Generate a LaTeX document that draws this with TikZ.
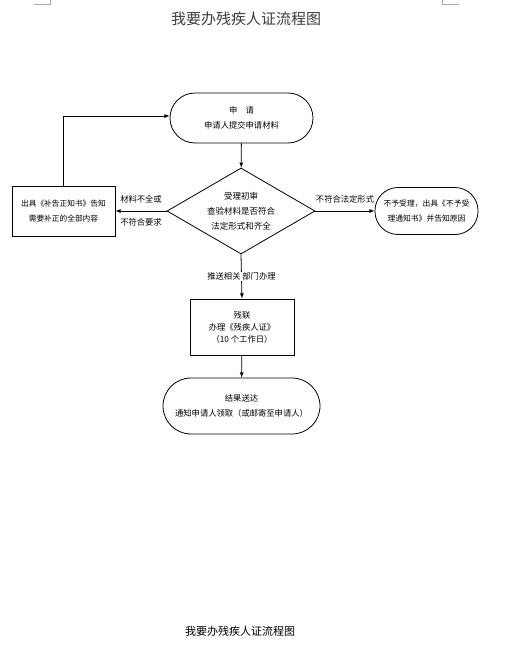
\documentclass[tikz,border=0pt]{standalone}
\usepackage{fontspec}
\setmainfont{Noto Sans CJK SC}
\usetikzlibrary{shapes.geometric}
\definecolor{titlegray}{RGB}{60,60,60}
\definecolor{markgray}{RGB}{170,170,170}

\begin{document}
\begin{tikzpicture}[x=1pt,y=-1pt,line width=0.8pt,
    every node/.style={font=\fontsize{8.3}{15}\selectfont,align=center,inner sep=0pt},
    stadium/.style={draw,rounded corners=#1},
    box/.style={draw,rectangle}]
    \useasboundingbox (0,0) rectangle (504,648);
    % page corner marks
    \draw [markgray,line width=0.6pt] (34,4)--(50,4)--(50,0);
    \draw [markgray,line width=0.6pt] (442,0)--(442,4)--(459,4);
    \node [font=\fontsize{15}{17}\selectfont,text=titlegray] (toptitle) at (246,19) {我要办残疾人证流程图};
    \node [font=\fontsize{11}{13}\selectfont] (bottomtitle) at (240,631) {我要办残疾人证流程图};
    % flow
    \node [stadium=25pt,minimum width=143pt,minimum height=50pt] (apply) at (241.5,118)
      {申\quad 请\\申请人提交申请材料};
    \node [draw,diamond,aspect=1.72,minimum width=148pt,minimum height=86pt,font=\fontsize{8.5}{15}\selectfont] (check) at (241,211)
      {受理初审\\查验材料是否符合\\法定形式和齐全};
    \node [box,minimum width=103pt,minimum height=50pt,font=\fontsize{7.7}{15}\selectfont] (amend) at (63.5,211)
      {出具《补告正知书》告知\\需要补正的全部内容};
    \node [stadium=23pt,minimum width=103pt,minimum height=47pt,font=\fontsize{7.8}{15}\selectfont] (reject) at (426.5,211)
      {不予受理，出具《不予受\\理通知书》并告知原因};
    \node [box,minimum width=104pt,minimum height=56pt,font=\fontsize{8.3}{12}\selectfont] (handle) at (242,327)
      {残联\\办理《残疾人证》\\（10 个工作日）};
    \node [stadium=28pt,minimum width=157pt,minimum height=56pt] (result) at (241.5,406)
      {结果送达\\通知申请人领取（或邮寄至申请人）};
    \draw [-latex] (apply) -- (check);
    \draw [-latex] (check.west) -- node [above=7pt] {材料不全或} node [below=7pt] {不符合要求} (amend.east);
    \draw [-latex] (check.east) -- node [above=7pt] {不符合法定形式} (reject.west);
    \draw [-latex] (amend.north) |- ([yshift=2pt]apply.west);
    \draw [-latex] (check.south) -- node [fill=white,inner sep=1pt] {推送相关 部门办理} (handle.north);
    \draw [-latex] (handle) -- (result);
  \end{tikzpicture}
\end{document}
